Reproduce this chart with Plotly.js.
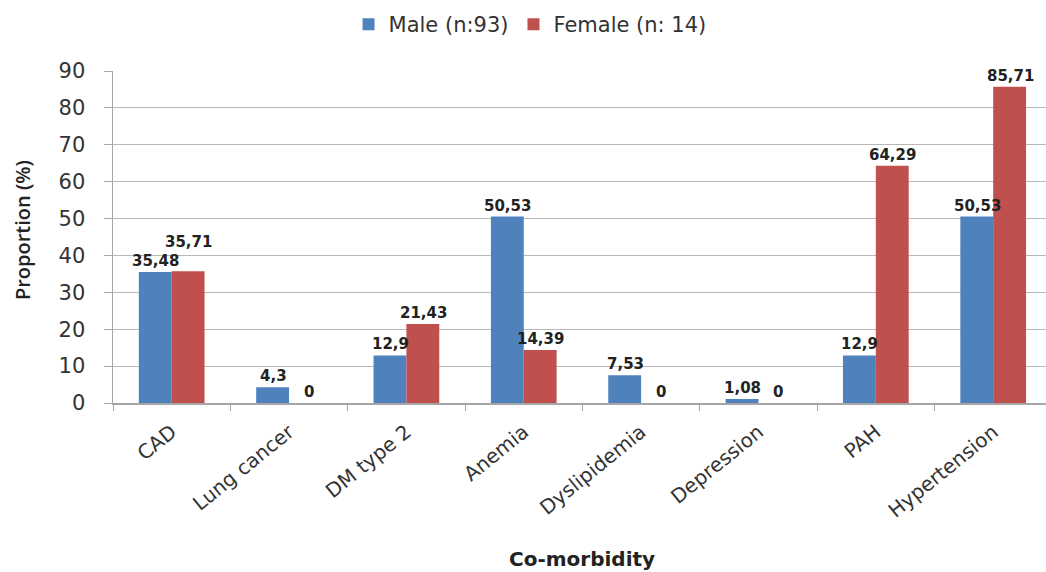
<!DOCTYPE html>
<html>
<head>
<meta charset="utf-8">
<script src="https://cdn.plot.ly/plotly-3.0.1.min.js"></script>
<style>html,body{margin:0;padding:0;background:#fff;}#chart{width:1046px;height:572px;}</style>
</head>
<body>
<div id="chart"></div>
<script>
const categories = ["CAD", "Lung cancer", "DM type 2", "Anemia", "Dyslipidemia", "Depression", "PAH", "Hypertension"];
const maleValues = [35.48, 4.3, 12.9, 50.53, 7.53, 1.08, 12.9, 50.53];
const femaleValues = [35.71, 0, 21.43, 14.39, 0, 0, 64.29, 85.71];
const maleLabel = "Male (n:93)";
const femaleLabel = "Female (n: 14)";
const yTicks = [0, 10, 20, 30, 40, 50, 60, 70, 80, 90];
const xTitle = "Co-morbidity";
const yTitle = "Proportion (%)";

const fmt = v => String(v).replace('.', ',');

const traces = [
  {type: 'bar', name: maleLabel, x: categories, y: maleValues, marker: {color: '#4F81BD'}, hoverinfo: 'none'},
  {type: 'bar', name: femaleLabel, x: categories, y: femaleValues, marker: {color: '#C0504D'}, hoverinfo: 'none'}
];

const annotations = [];
const labelFont = {family: 'DejaVu Sans', size: 15, color: '#222'};
categories.forEach((c, i) => {
  annotations.push({x: c, y: maleValues[i], xref: 'x', yref: 'y', text: '<b>' + fmt(maleValues[i]) + '</b>',
    showarrow: false, xshift: -16, yshift: 0, yanchor: 'bottom', font: labelFont});
  const extra = (i === 0) ? 18 : 0;
  annotations.push({x: c, y: femaleValues[i], xref: 'x', yref: 'y', text: '<b>' + fmt(femaleValues[i]) + '</b>',
    showarrow: false, xshift: (femaleValues[i] === 0 ? 20 : 17), yshift: extra, yanchor: 'bottom', font: labelFont});
});
annotations.push({x: 0.503, y: -0.47, xref: 'paper', yref: 'paper', text: '<b>' + xTitle + '</b>',
  showarrow: false, xanchor: 'center', yanchor: 'middle', font: {family: 'DejaVu Sans', size: 20, color: '#222'}});
annotations.push({x: -0.0975, y: 0.521, xref: 'paper', yref: 'paper', text: yTitle, textangle: -90,
  showarrow: false, xanchor: 'center', yanchor: 'middle', font: {family: 'Open Sans', size: 20, color: '#222', weight: 600}});

const layout = {
  width: 1046, height: 572,
  margin: {l: 113, r: 0, t: 71, b: 169},
  paper_bgcolor: '#fff', plot_bgcolor: '#fff',
  barmode: 'group', bargap: 0.44, bargroupgap: 0,
  showlegend: true,
  legend: {orientation: 'h', x: 0.447, xanchor: 'center', y: 1.14, yanchor: 'middle',
    font: {family: 'DejaVu Sans', size: 21, color: '#333'}, itemwidth: 30, traceorder: 'normal'},
  xaxis: {
    type: 'category', range: [-0.5, 7.45],
    tickangle: -39, tickfont: {family: 'DejaVu Sans', size: 20, color: '#333'},
    showline: true, linecolor: '#a6a6a6', linewidth: 1.5,
    ticks: 'outside', tickson: 'boundaries', ticklen: 6, tickcolor: '#a6a6a6', ticklabelstandoff: 8,
    showgrid: false
  },
  yaxis: {
    range: [0, 90], tickvals: yTicks, ticktext: yTicks.map(String),
    tickfont: {family: 'DejaVu Sans', size: 21, color: '#333'},
    showline: true, linecolor: '#a6a6a6', linewidth: 1.5,
    ticks: 'outside', ticklen: 8, tickcolor: '#a6a6a6', ticklabelstandoff: 14,
    showgrid: true, gridcolor: '#b8b8b8', gridwidth: 1, zeroline: false
  },
  annotations: annotations
};

Plotly.newPlot('chart', traces, layout, {displayModeBar: false, staticPlot: true});
</script>
</body>
</html>
